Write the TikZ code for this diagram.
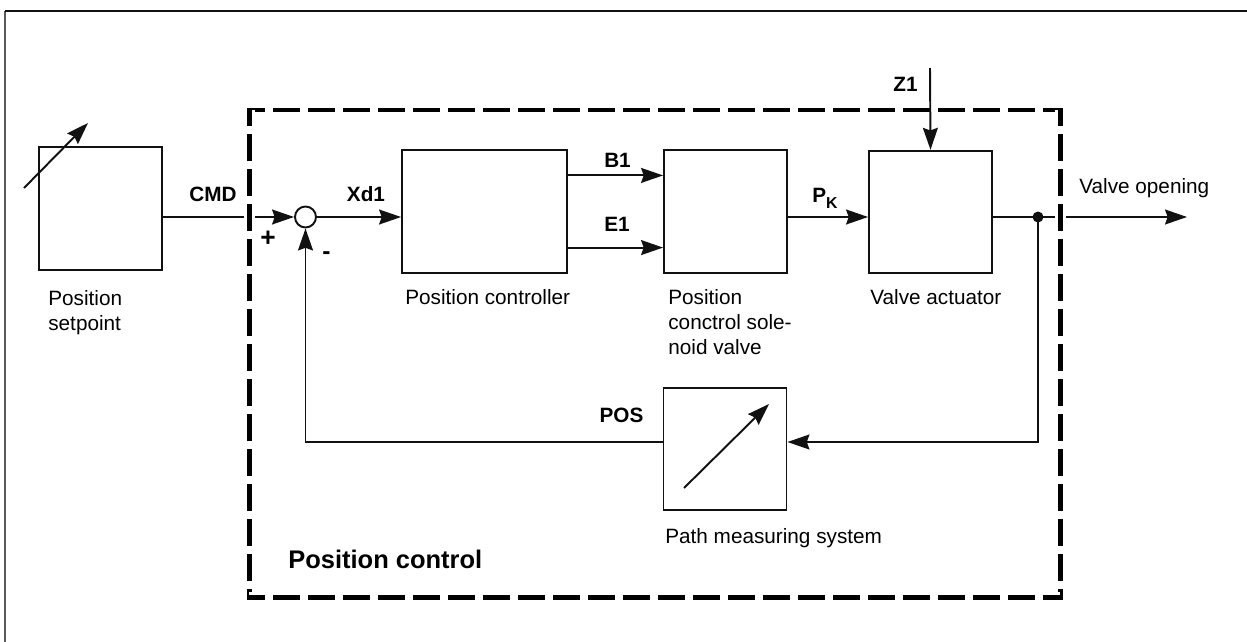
\documentclass[tikz,border=0pt]{standalone}
\usepackage{fontspec}
\setmainfont{Liberation Sans}
\usepackage{tikz}
\usetikzlibrary{positioning, arrows.meta, calc}
\usepackage{xcolor}
\definecolor{pcframe}{HTML}{5A5A5A}
\definecolor{pcink}{HTML}{111111}

\newcommand{\lblfont}{\fontsize{11.8}{14.2}\selectfont}

\begin{document}
\begin{tikzpicture}[x=0.02cm, y=-0.02cm,
  blk/.style={draw=pcink, line width=1.1pt, inner sep=0pt, minimum width=2.46cm, minimum height=2.45cm},
  sumpt/.style={draw=pcink, circle, line width=1.1pt, inner sep=0pt, minimum size=0.42cm},
  dot/.style={fill=pcink, circle, inner sep=0pt, minimum size=0.22cm},
  wire/.style={draw=pcink, line width=1.1pt},
  sig/.style={wire, -{Stealth[length=12.5pt, width=8.5pt, inset=1.5pt]}},
  blkcap/.style={font=\lblfont, anchor=north west, align=left, inner sep=0pt},
  sgn/.style={font=\lblfont\bfseries, inner sep=0pt},
  pcbox/.style={draw=black, line width=0.1cm, line cap=rect,
    dash pattern=on 0.44cm off 0.26cm, dash phase=0.17cm,
    preaction={draw=white, line width=0.22cm}}]
\useasboundingbox (0,0) rectangle (1247,642);

% page frame
\draw[pcframe, line width=0.04cm] (5,642) -- (5,11);
\draw[pcink, line width=0.04cm] (5,11) -- (1247,11);

% blocks
\node[blk] (setp) at (100.5,208.5) {};
\node[sumpt] (sum) at (305.5,217) {};
\node[blk, minimum width=3.3cm] (ctrl) at (484.5,211.5) {};
\node[blk] (valve) at (725.5,211.5) {};
\node[blk] (act) at (930.5,212) {};
\node[blk] (meas) at (725,449) {};
\node[dot] (tap) at (1038,217) {};

% adjuster arrows inside the setpoint and measuring blocks
\draw[sig] (24,188) -- (88,123);
\draw[sig] (684,488) -- (769,404);

% signal path
\coordinate (b1) at ($(ctrl.north east)!.21!(ctrl.south east)$);
\coordinate (e1) at ($(ctrl.north east)!.79!(ctrl.south east)$);
\coordinate (vout) at (1187,217);
\coordinate (fb) at (1038,442);
\draw[sig] (setp.east |- sum.west) -- (sum.west);
\draw[sig] (sum.east) -- (sum.east -| ctrl.west);
\draw[sig] (b1) -- (b1 -| valve.west);
\draw[sig] (e1) -- (e1 -| valve.west);
\draw[sig] (valve.east |- sum) -- (act.west |- sum);
\draw[wire] (act.east |- tap) -- (tap.center);
\draw[sig] (tap.center) -- (vout);
\draw[sig] (tap.center) -- (fb) -- (fb -| meas.east);
\draw[sig] (fb -| meas.west) -| (sum.south);

% position control boundary
\coordinate (pc-nw) at (249,110);
\coordinate (pc-ne) at (1060,110);
\coordinate (pc-sw) at (249,597);
\coordinate (pc-se) at (1060,597);
\draw[pcbox] (pc-nw) -- (pc-ne);
\draw[pcbox] (pc-nw) -- (pc-sw);
\draw[pcbox] (pc-ne) -- (pc-se);
\draw[pcbox] (pc-sw) -- (pc-se);

% disturbance input
\coordinate (z1in) at (930,68);
\draw[sig] (z1in) -- (act.north);

% signal names
\node[sgn] (l-cmd) at (213,194.5) {CMD};
\node[sgn, font=\fontsize{15}{15}\selectfont\bfseries] (l-plus) at (268,239) {+};
\node[sgn, font=\fontsize{14}{14}\selectfont\bfseries] (l-minus) at (326.5,256) {-};
\node[sgn] (l-xd) at (366,194.5) {Xd1};
\node[sgn] (l-b1) at (617.5,160) {B1};
\node[sgn] (l-e1) at (617,224.5) {E1};
\node[sgn, anchor=base] (l-pk) at (825,202) {P\raisebox{-0.55ex}{\fontsize{9}{9}\selectfont K}};
\node[sgn] (l-z1) at (905.5,84) {Z1};
\node[sgn] (l-pos) at (621.5,415.5) {POS};
\node[font=\lblfont, anchor=base west, inner sep=0pt] (l-out) at (1079,193) {Valve opening};

% block captions
\node[blkcap] (c-setp) at (48,290) {Position\\setpoint};
\node[blkcap] (c-ctrl) at (405,289) {Position controller};
\node[blkcap] (c-valve) at (668,289) {Position\\conctrol sole-\\noid valve};
\node[blkcap] (c-act) at (870,289) {Valve actuator};
\node[blkcap] (c-meas) at (665,528) {Path measuring system};
\node[blkcap, font=\fontsize{14.5}{16}\selectfont\bfseries] (c-pc) at (288,550) {Position control};
\end{tikzpicture}
\end{document}
